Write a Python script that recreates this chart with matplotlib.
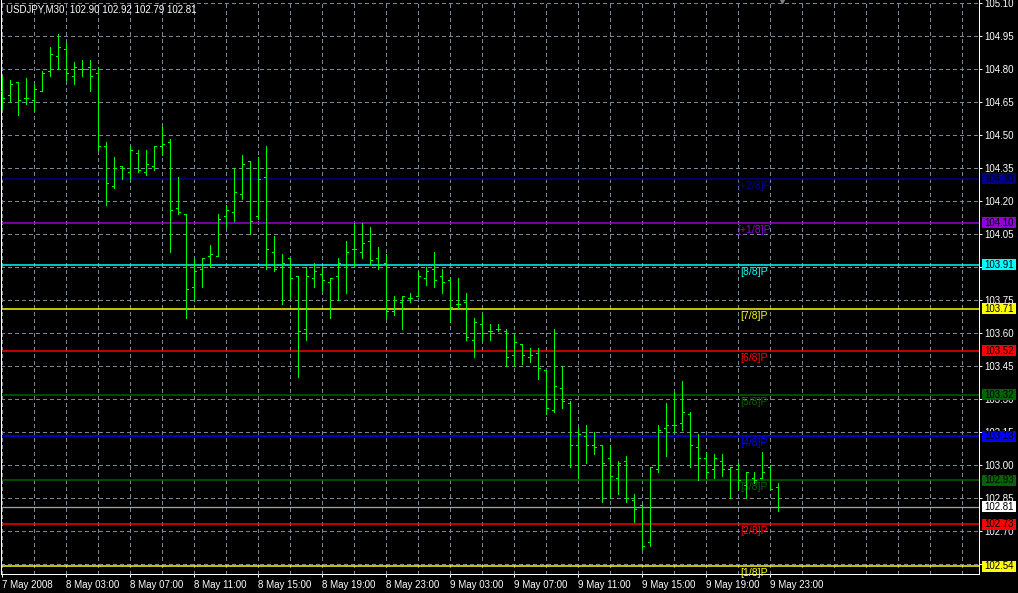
import matplotlib
matplotlib.use("Agg")
import matplotlib.pyplot as plt
import matplotlib.transforms as mtransforms
from matplotlib.patches import Rectangle
from matplotlib.collections import LineCollection
from matplotlib.ticker import FixedLocator, NullFormatter

plt.rcParams['font.family'] = ['Liberation Sans', 'DejaVu Sans']

# ---------------- data ----------------
chart_title = "USDJPY,M30  102.90 102.92 102.79 102.81"

opens = [
    104.70, 104.68, 104.74, 104.67, 104.66, 104.70, 104.79, 104.86, 104.89, 104.77,
    104.80, 104.81, 104.78, 104.45, 104.27, 104.36, 104.33, 104.42, 104.33, 104.36,
    104.45, 104.47, 104.17, 104.14, 103.81, 103.89, 103.95, 103.95, 104.13, 104.15,
    104.23, 104.38, 104.13, 104.31, 103.97, 103.90, 103.94, 103.86, 103.62, 103.85,
    103.87, 103.83, 103.86, 103.91, 103.98, 103.97, 104.02, 103.94, 103.92, 103.70,
    103.74, 103.76, 103.77, 103.85, 103.89, 103.86, 103.84, 103.73, 103.74, 103.57,
    103.64, 103.61, 103.62, 103.61, 103.50, 103.55, 103.49, 103.51, 103.43, 103.25,
    103.35, 103.28, 103.09, 103.13, 103.09, 103.09, 103.03, 102.94, 103.02, 102.84,
    102.82, 102.65, 102.98, 103.17, 103.18, 103.19, 103.23, 103.08, 103.03, 102.98,
    103.02, 102.98, 102.98, 102.91, 102.94, 102.94, 102.99, 102.90,
]
highs = [
    104.77, 104.75, 104.74, 104.76, 104.73, 104.79, 104.90, 104.96, 104.92, 104.83,
    104.84, 104.84, 104.81, 104.47, 104.40, 104.36, 104.45, 104.43, 104.43, 104.45,
    104.54, 104.48, 104.31, 104.14, 103.94, 103.94, 104.00, 104.14, 104.18, 104.35,
    104.41, 104.38, 104.40, 104.45, 104.04, 103.96, 103.94, 103.86, 103.90, 103.92,
    103.90, 103.85, 103.94, 104.02, 104.10, 104.10, 104.08, 103.99, 103.96, 103.77,
    103.77, 103.78, 103.88, 103.90, 103.97, 103.89, 103.85, 103.85, 103.78, 103.67,
    103.69, 103.64, 103.64, 103.62, 103.60, 103.55, 103.53, 103.53, 103.43, 103.62,
    103.45, 103.29, 103.17, 103.18, 103.15, 103.09, 103.09, 103.02, 103.04, 102.87,
    102.82, 102.99, 103.18, 103.28, 103.33, 103.38, 103.24, 103.14, 103.06, 103.05,
    103.05, 102.99, 103.01, 102.97, 102.97, 103.06, 103.00, 102.92,
]
lows = [
    104.62, 104.65, 104.59, 104.64, 104.61, 104.70, 104.77, 104.80, 104.75, 104.73,
    104.77, 104.70, 104.43, 104.18, 104.26, 104.30, 104.30, 104.33, 104.32, 104.34,
    104.41, 103.97, 104.14, 103.67, 103.75, 103.81, 103.90, 103.95, 104.08, 104.11,
    104.21, 104.05, 104.12, 103.89, 103.88, 103.73, 103.76, 103.40, 103.57, 103.81,
    103.79, 103.67, 103.75, 103.78, 103.90, 103.94, 103.91, 103.89, 103.67, 103.68,
    103.62, 103.74, 103.77, 103.82, 103.81, 103.78, 103.65, 103.71, 103.57, 103.49,
    103.57, 103.57, 103.61, 103.45, 103.45, 103.46, 103.47, 103.39, 103.23, 103.24,
    103.26, 102.99, 102.94, 103.01, 103.05, 102.83, 102.85, 102.87, 102.83, 102.74,
    102.62, 102.63, 102.97, 103.04, 103.15, 103.16, 102.99, 102.93, 102.94, 102.94,
    102.95, 102.85, 102.89, 102.85, 102.92, 102.94, 102.89, 102.79,
]
closes = [
    104.67, 104.73, 104.66, 104.67, 104.71, 104.78, 104.87, 104.90, 104.78, 104.81,
    104.80, 104.77, 104.45, 104.28, 104.35, 104.35, 104.43, 104.34, 104.37, 104.45,
    104.46, 104.16, 104.15, 103.80, 103.88, 103.94, 103.96, 104.12, 104.16, 104.24,
    104.37, 104.11, 104.30, 103.98, 103.89, 103.92, 103.85, 103.61, 103.86, 103.88,
    103.84, 103.85, 103.92, 103.97, 103.98, 104.01, 103.93, 103.91, 103.70, 103.75,
    103.77, 103.76, 103.86, 103.88, 103.84, 103.83, 103.72, 103.73, 103.58, 103.65,
    103.60, 103.61, 103.62, 103.49, 103.56, 103.50, 103.50, 103.44, 103.26, 103.36,
    103.29, 103.09, 103.14, 103.09, 103.08, 103.01, 102.95, 103.01, 102.85, 102.80,
    102.63, 102.99, 103.16, 103.18, 103.18, 103.24, 103.09, 103.03, 102.97, 103.03,
    102.98, 102.99, 102.93, 102.97, 102.93, 102.97, 102.89, 102.81,
]

time_labels = ["7 May 2008", "8 May 03:00", "8 May 07:00", "8 May 11:00",
               "8 May 15:00", "8 May 19:00", "8 May 23:00", "9 May 03:00",
               "9 May 07:00", "9 May 11:00", "9 May 15:00", "9 May 19:00",
               "9 May 23:00"]
bars_per_label = 8

price_ticks = [105.10, 104.95, 104.80, 104.65, 104.50, 104.35, 104.20, 104.05,
               103.90, 103.75, 103.60, 103.45, 103.30, 103.15, 103.00, 102.85,
               102.70, 102.55]
# tick labels fully covered by level boxes in the original are left blank
hidden_price_labels = [103.90, 102.55]

murrey_names = ["[+2/8]P", "[+1/8]P", "[8/8]P", "[7/8]P", "[6/8]P",
                "[5/8]P", "[4/8]P", "[3/8]P", "[2/8]P", "[1/8]P"]
murrey_levels = [104.30, 104.10, 103.91, 103.71, 103.52,
                 103.32, 103.13, 102.93, 102.73, 102.54]
murrey_colors = ["#00008B", "#9400D3", "#00FFFF", "#FFFF00", "#FF0000",
                 "#006400", "#0000FF", "#006400", "#FF0000", "#FFFF00"]

bid_price = 102.81

# ---------------- figure ----------------
W, H = 1018, 593
fig = plt.figure(figsize=(W / 100, H / 100), dpi=100, facecolor="black")
ax = fig.add_axes([1 / W, 19 / H, 978 / W, 574 / H], facecolor="black")

PX = 0.72  # one pixel in points
grid_col = "#778899"

ax.set_xlim(-0.125, 122.125)
ax.set_ylim(102.5045, 105.1136)

# x axis: labels every 8 bars
ax.xaxis.set_major_locator(FixedLocator([k * bars_per_label for k in range(len(time_labels))]))
ax.set_xticklabels(time_labels)
ax.xaxis.set_minor_formatter(NullFormatter())
for lbl in ax.get_xticklabels():
    lbl.set_ha("left")

# y axis on the right
ax.yaxis.tick_right()
ax.set_yticks(price_ticks)
ax.set_yticklabels(["" if p in hidden_price_labels else f"{p:.2f}" for p in price_ticks])

ax.tick_params(axis="x", which="major", colors="white", length=3 * PX, width=PX,
               pad=2, labelsize=7, labelcolor="white")
ax.tick_params(axis="x", which="minor", length=0)
ax.tick_params(axis="y", which="major", colors="white", length=3 * PX, width=PX,
               pad=1.5, labelsize=7, labelcolor="white")

# grid lines (vertical every 4 bars, horizontal at price ticks)
for xg in range(0, 123, 4):
    ax.axvline(xg, color=grid_col, lw=PX, ls=(0, (3, 3)), antialiased=False, zorder=1)
for yg in price_ticks:
    ax.axhline(yg, color=grid_col, lw=PX, ls=(0, (3, 3)), antialiased=False, zorder=1)

for s in ["left", "bottom", "right"]:
    ax.spines[s].set_color("white")
    ax.spines[s].set_linewidth(PX)
ax.spines["top"].set_visible(False)

# Murrey levels
for name, lev, col in zip(murrey_names, murrey_levels, murrey_colors):
    ax.axhline(lev, color=col, lw=PX * 1.5, zorder=2)
    ax.annotate(name, xy=(94, lev), xytext=(0, -1.5), textcoords="offset points",
                ha="center", va="top", color=col, fontsize=7.5, zorder=3)

# bid line
ax.axhline(bid_price, color="#A0A0A0", lw=PX * 1.3, zorder=2)

# OHLC bars
segs = []
for i, (o, h, l, c) in enumerate(zip(opens, highs, lows, closes)):
    segs.append([(i, l), (i, h)])
    segs.append([(i - 0.3, o), (i, o)])
    segs.append([(i, c), (i + 0.3, c)])
ax.add_collection(LineCollection(segs, colors="#00FF00", linewidths=PX,
                                 antialiaseds=False, zorder=4))

# price boxes on the axis
blend = mtransforms.blended_transform_factory(fig.transFigure, ax.transData)
box_levels = murrey_levels + [bid_price]
box_colors = murrey_colors + ["#FFFFFF"]
for lev, col in zip(box_levels, box_colors):
    fig.add_artist(Rectangle((982 / W, lev - 0.025), 34 / W, 0.05, transform=blend,
                             facecolor=col, edgecolor="none", zorder=5))
    fig.text(984.5 / W, lev, f"{lev:.2f}", transform=blend, ha="left", va="center",
             color="black", fontsize=7, zorder=6)

# title
fig.text(6 / W, 1 - 9 / H, chart_title, ha="left", va="center", color="white",
         fontsize=7, zorder=6)

# chart shift marker
ax.plot([97.5], [1], transform=mtransforms.blended_transform_factory(ax.transData, ax.transAxes),
        marker="v", ms=5, color="#808080", clip_on=False, zorder=6)

fig.savefig("out.png", dpi=100, facecolor="black")
